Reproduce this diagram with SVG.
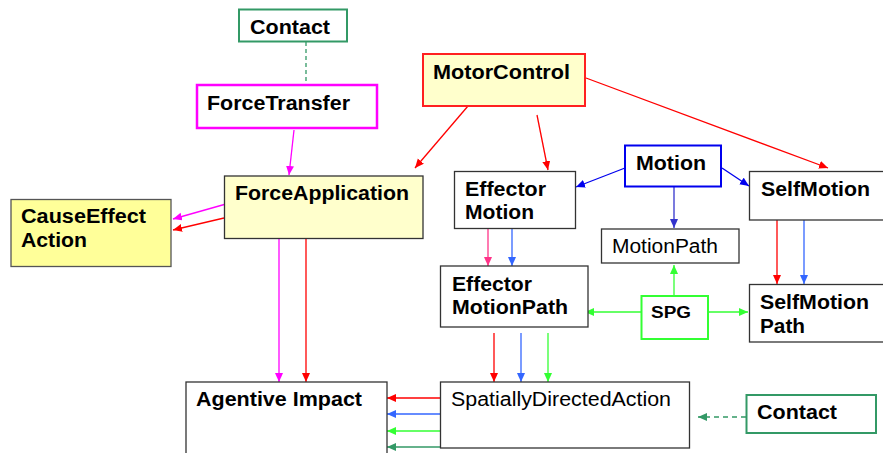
<svg xmlns="http://www.w3.org/2000/svg" width="883" height="453" viewBox="0 0 883 453">
<style>
  .box{fill:#ffffff;stroke:#333333;stroke-width:1.3}
  .pale{fill:#ffffcc}
  .yel{fill:#ffff99;stroke:#555555}
  .b{font-family:"Liberation Sans",Arial,sans-serif;font-weight:bold;font-size:20px;fill:#000}
  .r{font-family:"Liberation Sans",Arial,sans-serif;font-size:20px;fill:#000}
  .c line{stroke-width:1.3;fill:none}
</style>
<defs>
  <marker id="aR" markerUnits="userSpaceOnUse" markerWidth="10" markerHeight="10" refX="9" refY="4" orient="auto"><path d="M0,0 L9,4 L0,8 z" fill="#ff0000"/></marker>
  <marker id="aM" markerUnits="userSpaceOnUse" markerWidth="10" markerHeight="10" refX="9" refY="4" orient="auto"><path d="M0,0 L9,4 L0,8 z" fill="#ff00ff"/></marker>
  <marker id="aB" markerUnits="userSpaceOnUse" markerWidth="10" markerHeight="10" refX="9" refY="4" orient="auto"><path d="M0,0 L9,4 L0,8 z" fill="#0000ee"/></marker>
  <marker id="aB2" markerUnits="userSpaceOnUse" markerWidth="10" markerHeight="10" refX="9" refY="4" orient="auto"><path d="M0,0 L9,4 L0,8 z" fill="#3366ff"/></marker>
  <marker id="aB3" markerUnits="userSpaceOnUse" markerWidth="10" markerHeight="10" refX="9" refY="4" orient="auto"><path d="M0,0 L9,4 L0,8 z" fill="#3333cc"/></marker>
  <marker id="aP" markerUnits="userSpaceOnUse" markerWidth="10" markerHeight="10" refX="9" refY="4" orient="auto"><path d="M0,0 L9,4 L0,8 z" fill="#ff3388"/></marker>
  <marker id="aG" markerUnits="userSpaceOnUse" markerWidth="10" markerHeight="10" refX="9" refY="4" orient="auto"><path d="M0,0 L9,4 L0,8 z" fill="#33ff33"/></marker>
  <marker id="aD" markerUnits="userSpaceOnUse" markerWidth="10" markerHeight="10" refX="9" refY="4" orient="auto"><path d="M0,0 L9,4 L0,8 z" fill="#339966"/></marker>
</defs>

<g id="connectors" class="c">
  <line x1="306" y1="42" x2="306" y2="85" stroke="#339966" stroke-dasharray="4,3"/>
  <line x1="294" y1="130" x2="289" y2="175" stroke="#ff00ff" marker-end="url(#aM)"/>
  <line x1="226" y1="204" x2="173" y2="219" stroke="#ff00ff" marker-end="url(#aM)"/>
  <line x1="224" y1="218" x2="173" y2="230" stroke="#ff0000" marker-end="url(#aR)"/>
  <line x1="279" y1="239" x2="279" y2="382" stroke="#ff00ff" marker-end="url(#aM)"/>
  <line x1="306" y1="239" x2="306" y2="382" stroke="#ff0000" marker-end="url(#aR)"/>
  <line x1="468" y1="106" x2="415" y2="168" stroke="#ff0000" marker-end="url(#aR)"/>
  <line x1="537" y1="115" x2="548" y2="170" stroke="#ff0000" marker-end="url(#aR)"/>
  <line x1="586" y1="78" x2="828" y2="168" stroke="#ff0000" marker-end="url(#aR)"/>
  <line x1="625" y1="168" x2="576" y2="187" stroke="#0000ee" marker-end="url(#aB)"/>
  <line x1="722" y1="168" x2="749" y2="186" stroke="#0000ee" marker-end="url(#aB)"/>
  <line x1="674" y1="184" x2="674" y2="228" stroke="#3333cc" marker-end="url(#aB3)"/>
  <line x1="488" y1="229" x2="488" y2="266" stroke="#ff3388" marker-end="url(#aP)"/>
  <line x1="512" y1="229" x2="512" y2="266" stroke="#3366ff" marker-end="url(#aB2)"/>
  <line x1="777" y1="220" x2="777" y2="284" stroke="#ff0000" marker-end="url(#aR)"/>
  <line x1="804" y1="220" x2="804" y2="284" stroke="#3366ff" marker-end="url(#aB2)"/>
  <line x1="641" y1="312" x2="585" y2="312" stroke="#33ff33" stroke-width="2" marker-end="url(#aG)"/>
  <line x1="708" y1="312" x2="748" y2="312" stroke="#33ff33" stroke-width="2" marker-end="url(#aG)"/>
  <line x1="674" y1="296" x2="674" y2="265" stroke="#33ff33" stroke-width="1.5" marker-end="url(#aG)"/>
  <line x1="494" y1="333" x2="494" y2="382" stroke="#ff0000" marker-end="url(#aR)"/>
  <line x1="521" y1="333" x2="521" y2="382" stroke="#3366ff" marker-end="url(#aB2)"/>
  <line x1="548" y1="333" x2="548" y2="382" stroke="#33ff33" marker-end="url(#aG)"/>
  <line x1="440" y1="398" x2="387" y2="398" stroke="#ff0000" stroke-width="1.5" marker-end="url(#aR)"/>
  <line x1="440" y1="414" x2="387" y2="414" stroke="#3366ff" stroke-width="1.5" marker-end="url(#aB2)"/>
  <line x1="440" y1="431" x2="387" y2="431" stroke="#33ff33" stroke-width="1.5" marker-end="url(#aG)"/>
  <line x1="440" y1="447" x2="387" y2="447" stroke="#339966" stroke-width="1.5" marker-end="url(#aD)"/>
  <line x1="746" y1="417" x2="698" y2="417" stroke="#339966" stroke-dasharray="5,4" marker-end="url(#aD)"/>
</g>

<g id="contact-top">
  <rect x="239" y="9.5" width="108" height="32" fill="#fff" stroke="#339966" stroke-width="2"/>
  <text class="b" x="250" y="34" textLength="80" lengthAdjust="spacingAndGlyphs">Contact</text>
</g>
<g id="forcetransfer">
  <rect x="197" y="85" width="180" height="43" fill="#fff" stroke="#ff00ff" stroke-width="2.5"/>
  <text class="b" x="207" y="110" textLength="143" lengthAdjust="spacingAndGlyphs">ForceTransfer</text>
</g>
<g id="forceapplication">
  <rect class="box pale" x="224.5" y="176" width="198.5" height="62.5"/>
  <text class="b" x="235" y="200" textLength="174" lengthAdjust="spacingAndGlyphs">ForceApplication</text>
</g>
<g id="causeeffectaction">
  <rect class="box yel" x="11" y="199.5" width="160" height="67"/>
  <text class="b" x="21" y="223" textLength="125" lengthAdjust="spacingAndGlyphs">CauseEffect</text>
  <text class="b" x="21" y="247" textLength="66" lengthAdjust="spacingAndGlyphs">Action</text>
</g>
<g id="motorcontrol">
  <rect x="423" y="54" width="162" height="52" fill="#ffffcc" stroke="#ff2020" stroke-width="2"/>
  <text class="b" x="433" y="79" textLength="137" lengthAdjust="spacingAndGlyphs">MotorControl</text>
</g>
<g id="motion">
  <rect x="625" y="145.5" width="96" height="41" fill="#fff" stroke="#0000ee" stroke-width="2"/>
  <text class="b" x="636" y="170" textLength="70" lengthAdjust="spacingAndGlyphs">Motion</text>
</g>
<g id="effectormotion">
  <rect class="box" x="454.5" y="171.5" width="121" height="57"/>
  <text class="b" x="465" y="196" textLength="81" lengthAdjust="spacingAndGlyphs">Effector</text>
  <text class="b" x="465" y="219" textLength="69" lengthAdjust="spacingAndGlyphs">Motion</text>
</g>
<g id="selfmotion">
  <rect class="box" x="749.5" y="171.5" width="140" height="48.5"/>
  <text class="b" x="761" y="196" textLength="109" lengthAdjust="spacingAndGlyphs">SelfMotion</text>
</g>
<g id="motionpath">
  <rect class="box" x="601.5" y="229" width="137.5" height="34"/>
  <text class="r" x="612" y="253" textLength="106" lengthAdjust="spacingAndGlyphs">MotionPath</text>
</g>
<g id="effectormotionpath">
  <rect class="box" x="440.5" y="266" width="147.5" height="61"/>
  <text class="b" x="452" y="291" textLength="80" lengthAdjust="spacingAndGlyphs">Effector</text>
  <text class="b" x="452" y="314" textLength="116" lengthAdjust="spacingAndGlyphs">MotionPath</text>
</g>
<g id="spg">
  <rect x="641.5" y="296" width="66.5" height="43" fill="#fff" stroke="#33ff33" stroke-width="2"/>
  <text class="b" x="651" y="318" style="font-size:16px" textLength="40" lengthAdjust="spacingAndGlyphs">SPG</text>
</g>
<g id="selfmotionpath">
  <rect class="box" x="749.5" y="284.5" width="140" height="57.5"/>
  <text class="b" x="760" y="309" textLength="109" lengthAdjust="spacingAndGlyphs">SelfMotion</text>
  <text class="b" x="760" y="333" textLength="45" lengthAdjust="spacingAndGlyphs">Path</text>
</g>
<g id="spatiallydirectedaction">
  <rect class="box" x="440.5" y="382" width="249" height="66"/>
  <text class="r" x="451" y="406" textLength="220" lengthAdjust="spacingAndGlyphs">SpatiallyDirectedAction</text>
</g>
<g id="agentiveimpact">
  <rect class="box" x="186" y="382" width="201" height="80"/>
  <text class="b" x="196" y="406" textLength="166" lengthAdjust="spacingAndGlyphs">Agentive Impact</text>
</g>
<g id="contact-bottom">
  <rect x="746.5" y="395" width="129.5" height="38" fill="#fff" stroke="#339966" stroke-width="2"/>
  <text class="b" x="757" y="419" textLength="80" lengthAdjust="spacingAndGlyphs">Contact</text>
</g>
</svg>
